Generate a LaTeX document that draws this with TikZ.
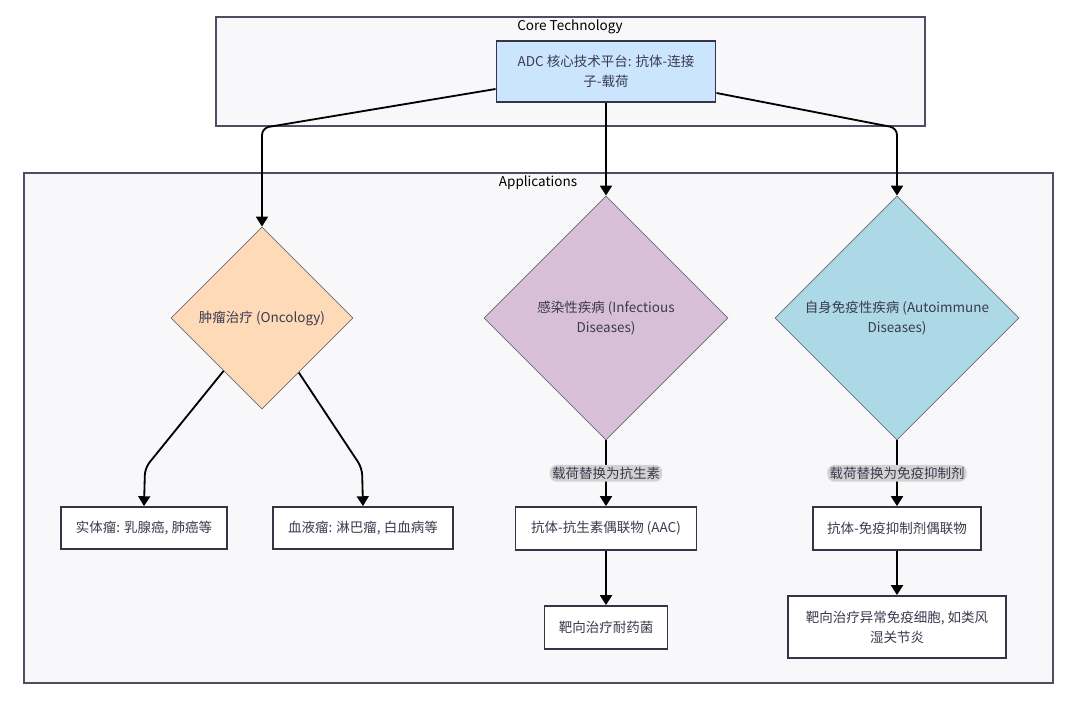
\documentclass[tikz,border=0pt]{standalone}
\usepackage{fontspec}
\newfontfamily\cjk{Noto Sans CJK SC}
\usetikzlibrary{shapes.geometric,arrows.meta}

\definecolor{framefill}{HTML}{F8F8FA}
\definecolor{framedraw}{HTML}{4E4E62}
\definecolor{adcblue}{HTML}{CCE5FF}
\definecolor{oncofill}{HTML}{FFDAB9}
\definecolor{infectfill}{HTML}{D8BFD8}
\definecolor{autofill}{HTML}{ADD8E6}
\definecolor{ink}{HTML}{3A3A4E}

\tikzset{
  every node/.style={font=\cjk\fontsize{9.6}{14}\selectfont, text=ink},
  frame/.style={draw=framedraw, fill=framefill, line width=1.1pt, inner sep=0pt},
  title/.style={text=black},
  box/.style={draw=ink!90!black, fill=white, line width=1.3pt, align=center, inner sep=0pt},
  choice/.style={diamond, draw=gray!85!black, line width=0.6pt, align=center, inner sep=0pt, aspect=1},
  flow/.style={draw=black, line width=1.3pt, rounded corners=5pt, -{Triangle[width=8.5pt,length=7pt]}},
  payload/.style={fill=gray!35, inner sep=1.5pt, text=ink}
}

\begin{document}
\begin{tikzpicture}[x=0.025cm, y=-0.025cm]
  \useasboundingbox (0,0) rectangle (1080,702);

  \node[frame, minimum width=17.725cm, minimum height=2.725cm] (core) at (570.5,71.5) {};
  \node[title] (coretitle) at (570,27) {Core Technology};
  \node[frame, minimum width=25.725cm, minimum height=12.75cm] (apps) at (538.5,428) {};
  \node[title] (appstitle) at (538,183) {Applications};

  \node[box, fill=adcblue, minimum width=5.475cm, minimum height=1.525cm] (adc) at (606,71.5) {ADC 核心技术平台: 抗体-连接\\子-载荷};

  \node[choice, fill=oncofill, minimum width=4.55cm, minimum height=4.55cm] (onc) at (262,318) {肿瘤治疗 (Oncology)};
  \node[choice, fill=infectfill, minimum width=6.1cm, minimum height=6.1cm] (inf) at (606,318) {感染性疾病 (Infectious\\Diseases)};
  \node[choice, fill=autofill, minimum width=6.1cm, minimum height=6.1cm] (aut) at (897,318) {自身免疫性疾病 (Autoimmune\\Diseases)};

  \node[box, minimum width=4.15cm, minimum height=1.05cm] (solid) at (144,528) {实体瘤: 乳腺癌, 肺癌等};
  \node[box, minimum width=4.5cm, minimum height=1.05cm] (blood) at (363,528) {血液瘤: 淋巴瘤, 白血病等};
  \node[box, minimum width=4.525cm, minimum height=1.075cm] (aac) at (606,528.5) {抗体-抗生素偶联物 (AAC)};
  \node[box, minimum width=3.075cm, minimum height=1.075cm] (germ) at (606,627.5) {靶向治疗耐药菌};
  \node[box, minimum width=4.2cm, minimum height=1.075cm] (aic) at (897,528.5) {抗体-免疫抑制剂偶联物};
  \node[box, minimum width=5.45cm, minimum height=1.55cm] (ra) at (897,627) {靶向治疗异常免疫细胞, 如类风\\湿关节炎};

  \draw[flow] (adc.west |- 0,89) -- (262,128) -- (onc.north);
  \draw[flow] (adc.south) -- (inf.north);
  \draw[flow] (adc.east |- 0,93) -- (897,128) -- (aut.north);

  \draw[flow] (onc.234) -- (145,468) -- (solid.north);
  \draw[flow] (onc.304) -- (362,468) -- (blood.north);

  \draw[flow] (inf.south) -- node[payload] {载荷替换为抗生素} (aac.north);
  \draw[flow] (aac.south) -- (germ.north);
  \draw[flow] (aut.south) -- node[payload] {载荷替换为免疫抑制剂} (aic.north);
  \draw[flow] (aic.south) -- (ra.north);
\end{tikzpicture}
\end{document}
